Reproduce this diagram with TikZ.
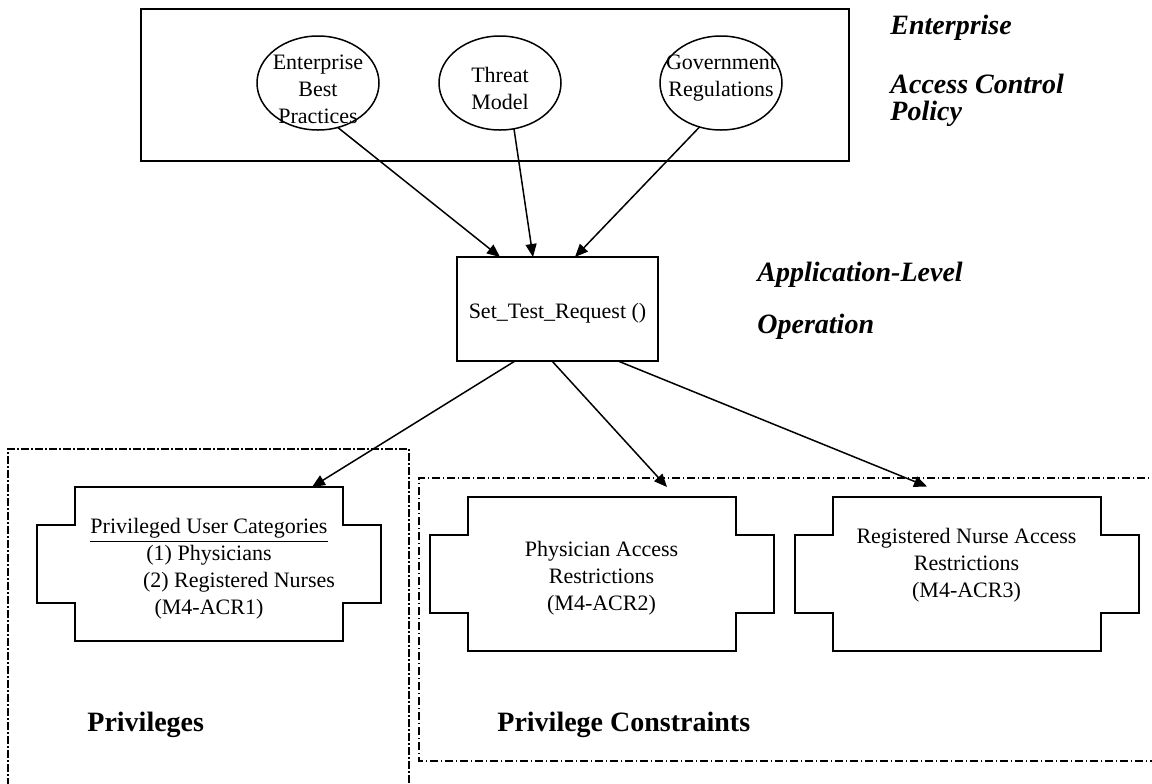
\documentclass[tikz,border=0pt]{standalone}
\usepackage{fontspec}
\setmainfont{Liberation Serif}
\usepackage{tikz}
\usetikzlibrary{positioning, calc, shapes, arrows.meta}
\tikzset{
    %Define style for the source ellipses
    source/.style={
           ellipse,
           draw=black, line width=0.75pt,
           minimum width=61pt,
           minimum height=47pt,
           inner sep=0pt, outer sep=0pt},
 %
    srctext/.style={
           align=center,
           inner sep=0pt,
           font=\fontsize{11}{13.5}\selectfont},
 %
    frame/.style={
           rectangle,
           draw=black, line width=1pt,
           minimum width=354pt,
           minimum height=76pt,
           outer sep=0pt},
 %
    opbox/.style={
           rectangle,
           draw=black, line width=1pt,
           minimum width=100.5pt,
           minimum height=52pt,
           outer sep=0pt,
           text height=12pt, text depth=2.5pt,
           font=\fontsize{11}{13}\selectfont},
 %
    crossbox/.style={
           rectangle,
           minimum width=134pt,
           minimum height=77pt,
           inner sep=0pt, outer sep=0pt},
 %
    tag/.style={
           anchor=base west,
           inner sep=0pt,
           font=\fontsize{14}{16}\selectfont\bfseries\itshape},
 %
    regiontag/.style={
           anchor=base west,
           inner sep=0pt,
           font=\fontsize{14}{16}\selectfont\bfseries},
 %
    privframe/.style={
           line width=1pt,
           dash pattern=on 4pt off 1pt on 1pt off 1pt},
 %
    consframe/.style={
           line width=0.75pt,
           dash pattern=on 4pt off 1.5pt on 0.5pt off 1.5pt},
 %
    % Define arrow style
    arrow/.style={
           ->,
           line width=0.75pt}
}
% outline of the notched boxes
\newcommand{\crossline}[1]{%
  \draw[line width=1pt] (#1.north west) -- (#1.north east)
    -- ([yshift=-19pt]#1.north east) -- ([xshift=19pt,yshift=-19pt]#1.north east)
    -- ([xshift=19pt,yshift=19pt]#1.south east) -- ([yshift=19pt]#1.south east)
    -- (#1.south east) -- (#1.south west)
    -- ([yshift=19pt]#1.south west) -- ([xshift=-19pt,yshift=19pt]#1.south west)
    -- ([xshift=-19pt,yshift=-19pt]#1.north west) -- ([yshift=-19pt]#1.north west)
    -- cycle;}

\begin{document}
\begin{tikzpicture}[x=0.5pt, y=-0.5pt, >={Triangle[length=6.5pt,width=5.5pt]}]

  \useasboundingbox (0,0) rectangle (1152,783);
  \clip (0,0) rectangle (1152,783);

  % enterprise policy
  \node[frame] (policy) at (495,85) {};
  \node[source] (bestprac) at (318,83) {};
  \node[srctext] (bestpractxt) at (318,89) {Enterprise\\Best\\Practices};
  \node[source] (threat) at (500,83) {};
  \node[srctext] (threattxt) at (500,88) {Threat\\Model};
  \node[source] (govreg) at (721,83) {};
  \node[srctext] (govregtxt) at (721,78) {Government\\Regulations};

  \node[tag] (enterlabel) at (890,34) {Enterprise};
  \node[tag] (accesslabel) at (890,93) {Access Control};
  \node[tag] (policylabel) at (890,120) {Policy};

  % operation
  \node[opbox] (setreq) at (557.5,309) {Set\_Test\_Request ()};
  \node[tag] (applabel) at (757,281) {Application-Level};
  \node[tag] (oplabel) at (757,333) {Operation};

  % privileges and constraints
  \draw[privframe] (8,800) |- (409,449) -- (409,800);
  \draw[consframe] (1160,478) -| (419,761) -- (1160,761);

  \node[crossbox] (priv) at (209,564) {};
  \crossline{priv}
  \node[srctext] (privtxt) at (209,569)
    {\underline{Privileged User Categories}\\(1) Physicians\\
     \hspace*{30pt}(2) Registered Nurses\\(M4-ACR1)};
  \node[crossbox] (phys) at (601.5,574) {};
  \crossline{phys}
  \node[srctext] (phystxt) at (601.5,578)
    {Physician Access\\Restrictions\\(M4-ACR2)};
  \node[crossbox] (nurse) at (966.5,573.5) {};
  \crossline{nurse}
  \node[srctext] (nursetxt) at (966.5,565)
    {Registered Nurse Access\\Restrictions\\(M4-ACR3)};

  \node[regiontag] (privlabel) at (87,731) {Privileges};
  \node[regiontag] (conslabel) at (497,731) {Privilege Constraints};

  % connectors
  \draw[arrow] (bestprac.-66) -- ([xshift=-28.75pt]setreq.north);
  \draw[arrow] (threat.-73) -- ([xshift=-12.25pt]setreq.north);
  \draw[arrow] (govreg.-116) -- ([xshift=8.75pt]setreq.north);
  \draw[arrow] ([xshift=-21.25pt]setreq.south) -- ([xshift=51.5pt]priv.north);
  \draw[arrow] ([xshift=-2.75pt]setreq.south) -- ([xshift=32.75pt,yshift=5pt]phys.north);
  \draw[arrow] ([xshift=30.25pt]setreq.south) -- ([xshift=-19.75pt,yshift=5pt]nurse.north);
\end{tikzpicture}
\end{document}
